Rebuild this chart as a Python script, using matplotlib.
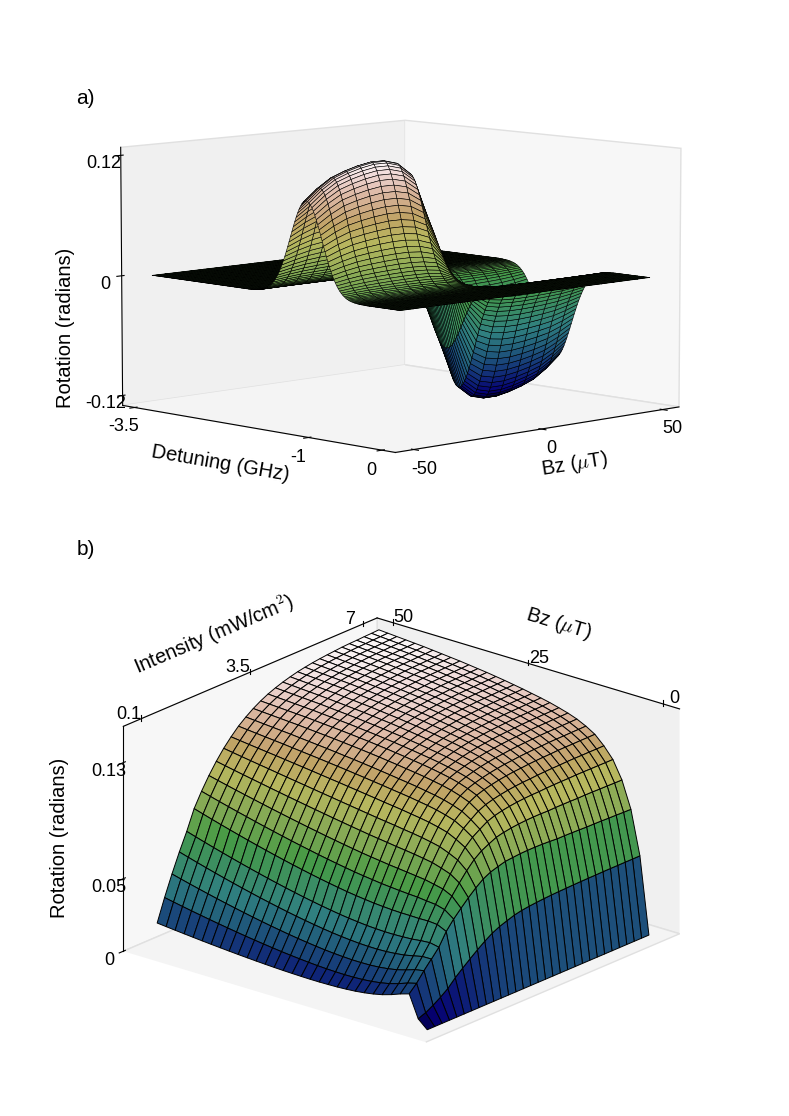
import numpy as np
import matplotlib
matplotlib.use("Agg")
import matplotlib.pyplot as plt
from matplotlib.colors import Normalize

plt.rcParams['font.family'] = ['Liberation Sans', 'DejaVu Sans']
plt.rcParams['mathtext.fontset'] = 'cm'
plt.rcParams['axes.unicode_minus'] = False

# ---------------- panel a data ----------------
detuning = np.linspace(-3.5, 0.0, 176)         # GHz, step 0.02
bz_a = np.linspace(-50.0, 50.0, 21)            # uT, step 5
# detuning dependence (0 away from the resonance near -1.28 GHz)
detuning_profile = (
    [0.0] * 72 +
    [0.0019, 0.0026, 0.0035, 0.0047, 0.0063, 0.0084, 0.0111, 0.0145, 0.0189, 0.0243,
     0.0310, 0.0392, 0.0492, 0.0612, 0.0756, 0.0926, 0.112, 0.135, 0.162, 0.191,
     0.225, 0.262, 0.303, 0.347, 0.395, 0.445, 0.498, 0.552, 0.607, 0.662,
     0.716, 0.768, 0.817, 0.862, 0.902, 0.936, 0.963, 0.984, 0.996, 1.0,
     0.996, 0.984, 0.963, 0.936, 0.902, 0.862, 0.817, 0.768, 0.716, 0.662,
     0.607, 0.552, 0.498, 0.445, 0.395, 0.347, 0.303, 0.262, 0.225, 0.191,
     0.162, 0.135, 0.112, 0.0926, 0.0756, 0.0612, 0.0492, 0.0392, 0.0310, 0.0243,
     0.0189, 0.0145, 0.0111, 0.0084, 0.0063, 0.0047, 0.0035, 0.0026, 0.0019] +
    [0.0] * 25)
# field dependence (odd, dispersive)
bz_profile_a = [0.75, 0.84, 0.91, 0.95, 0.98, 1.0, 1.0, 0.97, 0.88, 0.55, 0.0,
                -0.55, -0.88, -0.97, -1.0, -1.0, -0.98, -0.95, -0.91, -0.84, -0.75]
peak_rotation_a = 0.124

# ---------------- panel b data ----------------
intensity = np.linspace(0.1, 7.0, 31)          # mW/cm^2
bz_b = np.linspace(0.0, 50.0, 31)              # uT
narrow_shape = [0.0, 0.25, 0.995, 0.882, 0.748, 0.637, 0.551, 0.483, 0.428, 0.385, 0.348,
                0.319, 0.293, 0.271, 0.253, 0.237, 0.222, 0.209, 0.198, 0.188, 0.179, 0.170,
                0.163, 0.156, 0.149, 0.143, 0.138, 0.133, 0.128, 0.124, 0.120]
slow_shape = [0.0, 0.0043, 0.0131, 0.0251, 0.0398, 0.0569, 0.0761, 0.0975, 0.1206, 0.1457,
              0.1724, 0.2009, 0.2308, 0.2624, 0.2954, 0.3299, 0.3658, 0.4030, 0.4416, 0.4815,
              0.5227, 0.5650, 0.6088, 0.6537, 0.6998, 0.7470, 0.7953, 0.8449, 0.8955, 0.9472,
              1.0]
sat_shape = [0.0, 0.34, 0.53, 0.65, 0.73, 0.78, 0.82, 0.845, 0.865, 0.88, 0.892,
             0.903, 0.912, 0.92, 0.928, 0.935, 0.942, 0.948, 0.954, 0.959, 0.964, 0.969,
             0.973, 0.977, 0.981, 0.985, 0.988, 0.991, 0.994, 0.997, 1.0]
narrow_amp = [0.020, 0.023, 0.026, 0.027, 0.027, 0.028, 0.027, 0.025, 0.023, 0.021, 0.019,
              0.017, 0.015, 0.013, 0.011, 0.010, 0.009, 0.008, 0.007, 0.006, 0.005, 0.0045,
              0.004, 0.0035, 0.003, 0.0027, 0.0024, 0.0021, 0.0018, 0.0015, 0.0012]
slow_amp = [0.0135, 0.0248, 0.0320, 0.0358, 0.0365, 0.0353, 0.0313, 0.0263, 0.0207, 0.0151,
            0.0098, 0.0064, 0.0040, 0.0014, 0.0, 0.0, 0.0, 0.0, 0.0, 0.0, 0.0,
            0.0, 0.0, 0.0, 0.0, 0.0, 0.0, 0.0, 0.0, 0.0, 0.0]
sat_amp = [0.0017, 0.0054, 0.0119, 0.0210, 0.0323, 0.0469, 0.0608, 0.0747, 0.0882, 0.1008,
           0.1121, 0.1209, 0.1277, 0.1342, 0.1389, 0.1416, 0.1438, 0.1457, 0.1473, 0.1487,
           0.1498, 0.1507, 0.1514, 0.1520, 0.1525, 0.1530, 0.1533, 0.1535, 0.1538, 0.1540,
           0.1543]

# ---------------- figure ----------------
fig = plt.figure(figsize=(7.89, 11.16), dpi=100)
TFS = 13
LFS = 14.5


def style_axes(ax):
    ax.grid(False)
    ax.xaxis.set_pane_color((0.94, 0.94, 0.94, 1.0))
    ax.yaxis.set_pane_color((0.968, 0.968, 0.968, 1.0))
    ax.zaxis.set_pane_color((0.955, 0.955, 0.955, 1.0))
    for a in (ax.xaxis, ax.yaxis, ax.zaxis):
        a.pane.set_edgecolor((0.88, 0.88, 0.88, 1.0))
        a.line.set_linewidth(0.8)
    ax.tick_params(labelsize=TFS)


# panel a
ax1 = fig.add_axes([0.02, 0.546, 0.96, 0.40], projection='3d')
Xa, Ya = np.meshgrid(detuning, bz_a, indexing='ij')
Za = peak_rotation_a * np.outer(detuning_profile, bz_profile_a)
surf_a = ax1.plot_surface(Xa, Ya, Za, rstride=1, cstride=1, cmap='gist_earth',
                          norm=Normalize(-peak_rotation_a, peak_rotation_a),
                          edgecolor='k', linewidth=0.4, shade=False, antialiased=True)
surf_a.set_clip_on(False)
ax1.view_init(elev=7.5, azim=-44)
ax1.set_proj_type('persp', focal_length=2.0)
ax1.set_box_aspect((1, 1, 0.66), zoom=1.34)
ax1.set_xlim(-3.68, 0.18)
ax1.set_ylim(-57, 57)
ax1.set_zlim(-0.13, 0.128)
ax1.set_xticks([-3.5, -1, 0])
ax1.set_xticklabels(['-3.5', '-1', '0'])
ax1.set_yticks([-50, 0, 50])
ax1.set_yticklabels(['-50', '0', '50'])
ax1.set_zticks([-0.12, 0, 0.12])
ax1.set_zticklabels(['-0.12', '0', '0.12'])
ax1.zaxis.set_ticks_position('lower')
ax1.set_xlabel('Detuning (GHz)', fontsize=LFS, labelpad=-2)
ax1.set_ylabel(r'Bz ($\mu$T)', fontsize=LFS, labelpad=-2)
ax1.set_zlabel('')
style_axes(ax1)
ax1.tick_params(axis='x', pad=-2)
ax1.tick_params(axis='y', pad=-2)
ax1.tick_params(axis='z', pad=-3)

# panel b
ax2 = fig.add_axes([0.02, 0.020, 0.96, 0.46], projection='3d')
Xb, Yb = np.meshgrid(intensity, bz_b, indexing='ij')
Zb = (np.outer(narrow_amp, narrow_shape) + np.outer(slow_amp, slow_shape)
      + np.outer(sat_amp, sat_shape))
surf_b = ax2.plot_surface(Xb, Yb, Zb, rstride=1, cstride=1, cmap='gist_earth',
                          norm=Normalize(0, Zb.max()),
                          edgecolor='k', linewidth=0.7, shade=False, antialiased=True)
surf_b.set_clip_on(False)
ax2.view_init(elev=21, azim=-140)
ax2.set_proj_type('ortho')
ax2.set_box_aspect((1, 1, 0.61), zoom=1.15)
ax2.set_xlim(-0.45, 7.45)
ax2.set_ylim(-3, 53)
ax2.set_zlim(0, 0.155)
ax2.set_xticks([0.1, 3.5, 7])
ax2.set_xticklabels(['0.1', '3.5', '7'])
ax2.set_yticks([0, 25, 50])
ax2.set_yticklabels(['0', '25', '50'])
ax2.set_zticks([0, 0.05, 0.13])
ax2.set_zticklabels(['0', '0.05', '0.13'])
ax2.xaxis.set_ticks_position('upper')
ax2.xaxis.set_label_position('upper')
ax2.yaxis.set_ticks_position('upper')
ax2.yaxis.set_label_position('upper')
ax2.set_xlabel(r'Intensity (mW/cm$^2$)', fontsize=LFS, labelpad=2)
ax2.set_ylabel(r'Bz ($\mu$T)', fontsize=LFS, labelpad=2)
ax2.set_zlabel('')
style_axes(ax2)
ax2.tick_params(axis='x', pad=0)
ax2.tick_params(axis='y', pad=0)
ax2.tick_params(axis='z', pad=-3)

fig.text(0.097, 0.907, 'a)', fontsize=15)
fig.text(0.097, 0.503, 'b)', fontsize=15)
fig.text(0.083, 0.706, 'Rotation (radians)', fontsize=LFS, rotation=90,
         ha='center', va='center')
fig.text(0.076, 0.249, 'Rotation (radians)', fontsize=LFS, rotation=90,
         ha='center', va='center')

fig.savefig('out.png', dpi=100)
